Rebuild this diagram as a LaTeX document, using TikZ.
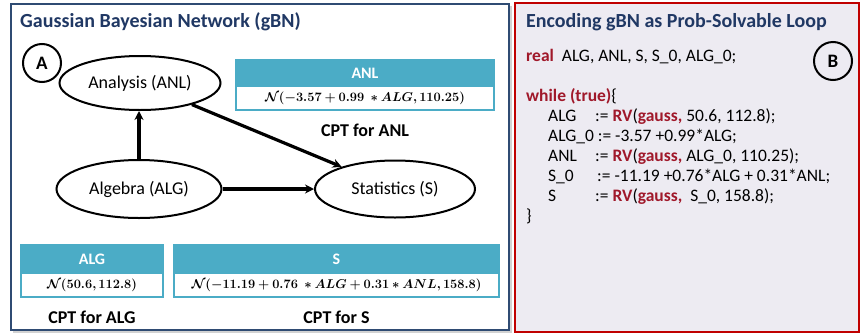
\RequirePackage{fix-cm}
\documentclass[tikz,border=0pt]{standalone}
\usepackage[no-math]{fontspec}
\usepackage{bm}
\setmainfont{Carlito}
\usetikzlibrary{arrows.meta,shapes.geometric}
\definecolor{navy}{HTML}{203864}
\definecolor{panelblue}{HTML}{2F4B73}
\definecolor{kw}{HTML}{A0182A}
\definecolor{tealh}{HTML}{4BACC6}
\definecolor{lav}{HTML}{EDEBF2}
\definecolor{redb}{HTML}{C00000}
\tikzset{
  ptitle/.style={anchor=west, text=navy, font=\bfseries\fontsize{20}{22}\selectfont, inner sep=0pt},
  badge/.style={circle, draw, line width=2pt, minimum size=38pt, inner sep=0pt, font=\bfseries\fontsize{19}{20}\selectfont},
  varnode/.style={ellipse, draw, line width=2pt, inner sep=0pt, font=\fontsize{18}{20}\selectfont},
  arr/.style={line width=3.2pt, -{Stealth[length=9pt,width=9pt]}},
  hdr/.style={fill=tealh, draw=tealh, line width=1.2pt, text=white, inner sep=0pt, font=\bfseries\fontsize{16}{18}\selectfont},
  cellnode/.style={fill=white, draw=tealh, line width=1.2pt, inner sep=0pt, font=\fontsize{12.8}{15}\selectfont},
  cptlab/.style={inner sep=0pt, font=\bfseries\fontsize{18}{20}\selectfont},
  codeline/.style={anchor=base west, inner sep=0pt, font=\fontsize{17.5}{19}\selectfont},
}
\newcommand{\kwd}[1]{{\color{kw}\bfseries #1}}
\begin{document}
\begin{tikzpicture}[x=1pt,y=-1pt]
\useasboundingbox (0,0) rectangle (862,335);
\fill[white] (0,0) rectangle (862,335);
% panels
\fill[gray!35] (13,6) rectangle (512,333);
\draw[panelblue, line width=2.6pt, fill=white] (11,4) rectangle (509,330);
\draw[redb, line width=2.6pt, fill=lav] (515,3) rectangle (859,332);

% left panel
\node[ptitle] (ltitle) at (20,22) {Gaussian Bayesian Network (gBN)};
\node[badge] (A) at (42,63) {A};

\node[varnode, minimum width=161pt, minimum height=54pt] (anl) at (140,83) {Analysis (ANL)};
\node[varnode, minimum width=165pt, minimum height=58pt] (alg) at (139,189) {Algebra (ALG)};
\node[varnode, minimum width=160pt, minimum height=57pt] (s) at (395,189) {Statistics (S)};

\draw[arr] (alg.north) -- (alg.north |- anl.south);
\draw[arr] (anl) -- (s);
\draw[arr] (alg) -- (s);

% CPT ANL
\node[hdr, minimum width=258pt, minimum height=26pt] (anlh) at (365,73) {ANL};
\node[cellnode, minimum width=258pt, minimum height=24pt] (anlb) at (365,98) {$\bm{\mathcal{N}(-3.57+0.99\;\ast ALG, 110.25)}$};
\node[cptlab] (anlc) at (365,130) {CPT for ANL};

% CPT ALG
\node[hdr, minimum width=142pt, minimum height=28pt] (algh) at (92,259) {ALG};
\node[cellnode, minimum width=142pt, minimum height=24pt] (algb) at (92,285) {$\bm{\mathcal{N}(50.6, 112.8)}$};
\node[cptlab] (algc) at (92,317) {CPT for ALG};

% CPT S
\node[hdr, minimum width=325pt, minimum height=28pt] (sh) at (336.5,259) {S};
\node[cellnode, minimum width=325pt, minimum height=24pt] (sb) at (336.5,285) {$\bm{\mathcal{N}(-11.19+0.76\;\ast ALG+0.31\ast ANL, 158.8)}$};
\node[cptlab] (sc) at (336.5,317) {CPT for S};

% right panel
\node[ptitle] (rtitle) at (526,22) {Encoding gBN as Prob-Solvable Loop};
\node[badge] (B) at (833,61) {B};

\node[codeline] (l1) at (526,61) {\kwd{real}\ \ ALG, ANL, S, S\_0, ALG\_0;};
\node[codeline] (l2) at (526,101) {\kwd{while (true)}\{};
\node[codeline] (l3a) at (548,121) {ALG};
\node[codeline] (l3b) at (595,121) {:= \kwd{RV}(\kwd{gauss,} 50.6, 112.8);};
\node[codeline] (l4) at (548,141) {ALG\_0 := -3.57 +0.99*ALG;};
\node[codeline] (l5a) at (548,161) {ANL};
\node[codeline] (l5b) at (595,161) {:= \kwd{RV}(\kwd{gauss,} ALG\_0, 110.25);};
\node[codeline] (l6a) at (548,181) {S\_0};
\node[codeline] (l6b) at (597,181) {:= -11.19 +0.76*ALG + 0.31*ANL;};
\node[codeline] (l7a) at (548,201) {S};
\node[codeline] (l7b) at (595,201) {:= \kwd{RV}(\kwd{gauss,}\ \ S\_0, 158.8);};
\node[codeline] (l8) at (526,221) {\}};
\end{tikzpicture}
\end{document}
